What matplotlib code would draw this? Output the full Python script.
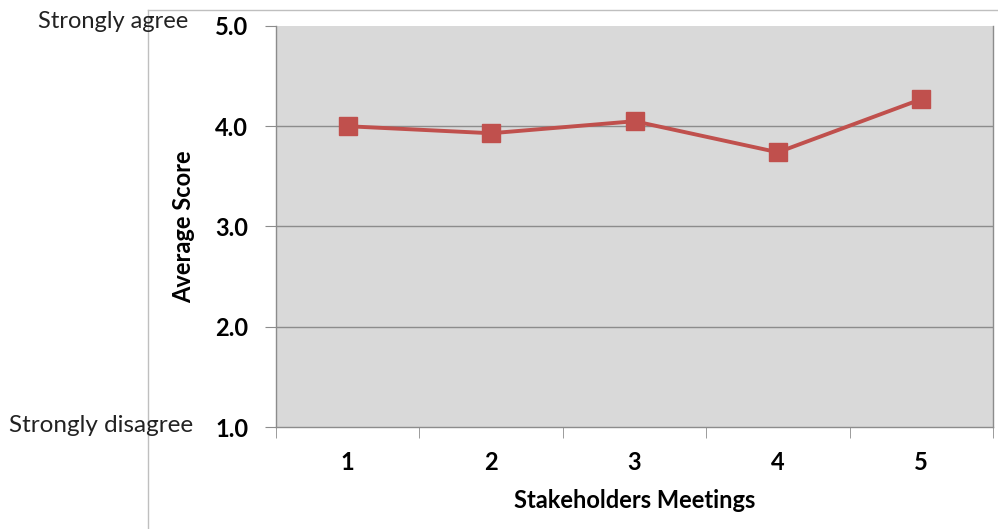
import matplotlib
matplotlib.use("Agg")
import matplotlib.pyplot as plt
from matplotlib.lines import Line2D

plt.rcParams["font.family"] = ["Lato", "DejaVu Sans"]

meetings = ["1", "2", "3", "4", "5"]
avg_score = [4.00, 3.93, 4.05, 3.74, 4.27]
y_ticks = [1.0, 2.0, 3.0, 4.0, 5.0]

LINE = "#C0504D"
GRID = "#8c8c8c"

fig = plt.figure(figsize=(9.98, 5.29), dpi=100)
ax = fig.add_axes([0.2766, 0.1928, 0.7184, 0.7581])
ax.set_facecolor("#d9d9d9")

x = list(range(len(meetings)))
ax.plot(x, avg_score, color=LINE, lw=2.8, marker="s", ms=13.5,
        markeredgecolor=LINE, markerfacecolor=LINE, zorder=3)

ax.set_xlim(-0.5, len(meetings) - 0.5)
ax.set_ylim(1.0, 5.0)
ax.set_yticks(y_ticks)
ax.set_yticklabels([f"{v:.1f}" for v in y_ticks], fontweight="bold", fontsize=17)
ax.set_xticks(x)
ax.set_xticklabels(meetings, fontweight="bold", fontsize=17)
ax.set_xticks([i - 0.5 for i in range(len(meetings) + 1)], minor=True)
ax.tick_params(axis="x", which="major", length=0, pad=17)
ax.tick_params(axis="x", which="minor", length=8, color=GRID, direction="out")
ax.tick_params(axis="y", length=8, color=GRID, direction="out", pad=12)

for v in y_ticks[1:-1]:
    ax.axhline(v, color=GRID, lw=1.0, zorder=1)

for side in ("left", "bottom", "right"):
    ax.spines[side].set_color(GRID)
    ax.spines[side].set_linewidth(1.0)
ax.spines["top"].set_visible(False)

ax.set_ylabel("Average Score", fontweight="bold", fontsize=17, labelpad=14)
ax.set_xlabel("Stakeholders Meetings", fontweight="bold", fontsize=17, labelpad=11)

# outer chart frame
fig.add_artist(Line2D([148 / 998, 148 / 998], [0, 1 - 10 / 529],
                      color="#bfbfbf", lw=1.0, transform=fig.transFigure))
fig.add_artist(Line2D([148 / 998, 1], [1 - 10 / 529, 1 - 10 / 529],
                      color="#bfbfbf", lw=1.0, transform=fig.transFigure))

fig.text(188 / 998, 1 - 22 / 529, "Strongly agree", ha="right", va="center",
         fontsize=17, color="#222222")
fig.text(193 / 998, 1 - 425 / 529, "Strongly disagree", ha="right", va="center",
         fontsize=17.5, color="#222222")

fig.savefig("out.png", dpi=100, facecolor="white")
